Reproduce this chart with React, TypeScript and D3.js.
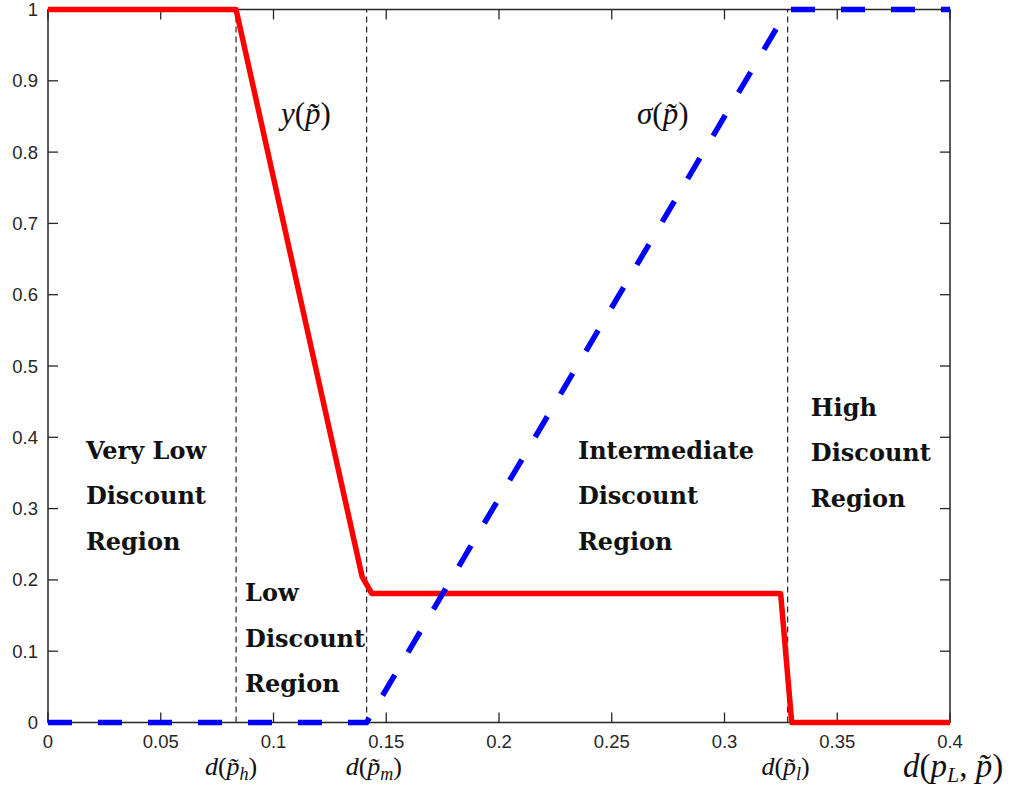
import React from "react";
import * as d3 from "d3";

const redX = [0, 0.0834, 0.1393, 0.1435, 0.3249, 0.3298, 0.4];
const redY = [1, 1, 0.2045, 0.181, 0.181, 0, 0];
const blueX = [0, 0.1413, 0.328, 0.4];
const blueY = [0, 0, 1, 1];
const vLines = [0.0834, 0.1413, 0.328];
const xTicks = [0, 0.05, 0.1, 0.15, 0.2, 0.25, 0.3, 0.35, 0.4];
const yTicks = [0, 0.1, 0.2, 0.3, 0.4, 0.5, 0.6, 0.7, 0.8, 0.9, 1];
const regionLabels = [
  { x: 0.0168, y: 0.37, lines: ["Very Low", "Discount", "Region"] },
  { x: 0.0874, y: 0.17, lines: ["Low", "Discount", "Region"] },
  { x: 0.2350, y: 0.37, lines: ["Intermediate", "Discount", "Region"] },
  { x: 0.3383, y: 0.43, lines: ["High", "Discount", "Region"] },
];
const boundaryLabels = [
  { x: 0.0812, sub: "h" },
  { x: 0.1445, sub: "m" },
  { x: 0.3271, sub: "l" },
];

const W = 1013;
const H = 790;
const L = 48, R = 950, T = 9.5, B = 722.5;

export default function App() {
  const x = d3.scaleLinear().domain([0, 0.4]).range([L, R]);
  const y = d3.scaleLinear().domain([0, 1]).range([B, T]);
  const line = d3.line<[number, number]>().x(d => x(d[0])).y(d => y(d[1]));
  const red = line(redX.map((v, i) => [v, redY[i]]) as [number, number][]) || "";
  const blue = line(blueX.map((v, i) => [v, blueY[i]]) as [number, number][]) || "";
  const axisColor = "#262626";
  const tickFont = "'Liberation Sans', Arial, sans-serif";
  const mathFont = "'Liberation Serif', 'Times New Roman', serif";
  const boldFont = "'DejaVu Serif', serif";
  const tl = 10;
  const fmt = (v: number) => String(+v.toFixed(2));
  return (
    <svg width={W} height={H} style={{ position: "absolute", left: 0, top: 0, background: "#fff" }}>
      {vLines.map((v, i) => (
        <line key={i} x1={x(v)} x2={x(v)} y1={y(0)} y2={y(1)} stroke="#222" strokeWidth={1.2} strokeDasharray="6 4" />
      ))}
      <rect x={L} y={T} width={R - L} height={B - T} fill="none" stroke={axisColor} strokeWidth={1.5} />
      {xTicks.map((v, i) => (
        <g key={i}>
          <line x1={x(v)} x2={x(v)} y1={B} y2={B - tl} stroke={axisColor} strokeWidth={1.3} />
          <line x1={x(v)} x2={x(v)} y1={T} y2={T + tl} stroke={axisColor} strokeWidth={1.3} />
          <text x={x(v)} y={748} textAnchor="middle" fontFamily={tickFont} fontSize={18.5} fill={axisColor}>{fmt(v)}</text>
        </g>
      ))}
      {yTicks.map((v, i) => (
        <g key={i}>
          <line x1={L} x2={L + tl} y1={y(v)} y2={y(v)} stroke={axisColor} strokeWidth={1.3} />
          <line x1={R} x2={R - tl} y1={y(v)} y2={y(v)} stroke={axisColor} strokeWidth={1.3} />
          <text x={38} y={y(v) + 6.5} textAnchor="end" fontFamily={tickFont} fontSize={18.5} fill={axisColor}>{fmt(v)}</text>
        </g>
      ))}
      <path d={red} fill="none" stroke="#ff0000" strokeWidth={5.5} strokeLinejoin="round" />
      <path d={blue} fill="none" stroke="#0000ff" strokeWidth={5.5} strokeDasharray="24 26" />
      {regionLabels.map((r, i) => (
        <text key={i} x={x(r.x)} y={y(r.y)} fontFamily={boldFont} fontWeight="bold" fontSize={24} fill="#111">
          {r.lines.map((ln, j) => (
            <tspan key={j} x={x(r.x)} dy={j === 0 ? 0 : 45.5}>{ln}</tspan>
          ))}
        </text>
      ))}
      <text x={281} y={124} fontFamily={mathFont} fontSize={31} fill="#111">
        <tspan fontStyle="italic">y</tspan>(<tspan fontStyle="italic">p&#x0303;</tspan>)
      </text>
      <text x={637} y={124} fontFamily={mathFont} fontSize={31} fill="#111">
        <tspan fontStyle="italic">σ</tspan>(<tspan fontStyle="italic">p&#x0303;</tspan>)
      </text>
      {boundaryLabels.map((b, i) => (
        <text key={i} x={x(b.x)} y={775} textAnchor="middle" fontFamily={mathFont} fontSize={26} fill="#111">
          <tspan fontStyle="italic">d</tspan>(<tspan fontStyle="italic">p&#x0303;</tspan>
          <tspan fontStyle="italic" fontSize={18} dy={5}>{b.sub}</tspan>
          <tspan dy={-5}>)</tspan>
        </text>
      ))}
      <text x={903} y={777} fontFamily={mathFont} fontSize={33} fill="#111">
        <tspan fontStyle="italic">d</tspan>(<tspan fontStyle="italic">p</tspan>
        <tspan fontStyle="italic" fontSize={22} dy={5}>L</tspan>
        <tspan dy={-5}>, </tspan><tspan fontStyle="italic">p&#x0303;</tspan>)
      </text>
    </svg>
  );
}
